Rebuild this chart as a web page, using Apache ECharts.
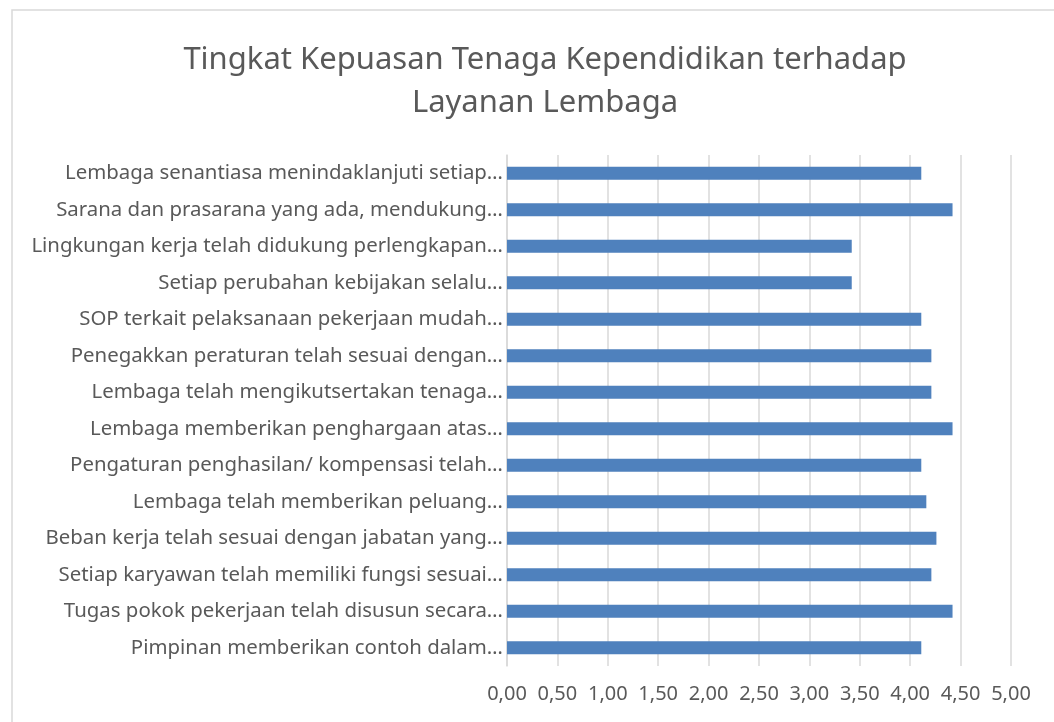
<!DOCTYPE html>
<html>
<head>
<meta charset="utf-8">
<script src="https://cdn.jsdelivr.net/npm/echarts@6/dist/echarts.min.js"></script>
<style>
  html, body { margin: 0; padding: 0; background: #fff; }
  #chart { width: 1054px; height: 722px; }
</style>
</head>
<body>
<div id="chart"></div>
<script>
    // categories, top to bottom as shown
    var items = [
        'Lembaga senantiasa menindaklanjuti setiap…',
        'Sarana dan prasarana yang ada, mendukung…',
        'Lingkungan kerja telah didukung perlengkapan…',
        'Setiap perubahan kebijakan selalu…',
        'SOP terkait pelaksanaan pekerjaan mudah…',
        'Penegakkan peraturan telah sesuai dengan…',
        'Lembaga telah mengikutsertakan tenaga…',
        'Lembaga memberikan penghargaan atas…',
        'Pengaturan penghasilan/ kompensasi telah…',
        'Lembaga telah memberikan peluang…',
        'Beban kerja telah sesuai dengan jabatan yang…',
        'Setiap karyawan telah memiliki fungsi sesuai…',
        'Tugas pokok pekerjaan telah disusun secara…',
        'Pimpinan memberikan contoh dalam…'
    ];
    var scores = [4.11, 4.42, 3.42, 3.42, 4.11, 4.21, 4.21, 4.42, 4.11, 4.16, 4.26, 4.21, 4.42, 4.11];
    var ticks = [0, 0.5, 1, 1.5, 2, 2.5, 3, 3.5, 4, 4.5, 5];

    var txt = '#595959';
    var chart = echarts.init(document.getElementById('chart'));

    var option = {
        animation: false,
        textStyle: { fontFamily: 'Noto Sans' },
        title: {
            text: 'Tingkat Kepuasan Tenaga Kependidikan terhadap\nLayanan Lembaga',
            left: 540,
            top: 34,
            textAlign: 'center',
            textStyle: {
                color: txt,
                fontFamily: 'Noto Sans',
                fontSize: 31,
                fontWeight: 'normal',
                lineHeight: 43
            }
        },
        graphic: [
            {
                type: 'rect',
                shape: { x: 12, y: 10, width: 1100, height: 800 },
                style: { fill: 'none', stroke: '#d9d9d9', lineWidth: 1.5 }
            }
        ],
        grid: { left: 507, right: 43, top: 155, bottom: 56 },
        xAxis: {
            type: 'value',
            min: ticks[0],
            max: ticks[ticks.length - 1],
            interval: 0.5,
            axisLine: { show: false },
            axisTick: { show: false },
            splitLine: { lineStyle: { color: '#d9d9d9', width: 1.5 } },
            axisLabel: {
                color: txt,
                fontSize: 20,
                margin: 18,
                formatter: function (v) { return v.toFixed(2).replace('.', ','); }
            }
        },
        yAxis: {
            type: 'category',
            inverse: true,
            data: items,
            axisLine: { lineStyle: { color: '#d9d9d9', width: 1.5 } },
            axisTick: { show: false },
            axisLabel: { color: txt, fontSize: 20.4, margin: 4 }
        },
        series: [
            {
                type: 'bar',
                data: scores,
                barWidth: 13,
                itemStyle: { color: '#4f81bd' }
            }
        ]
    };

    chart.setOption(option);
</script>
</body>
</html>
